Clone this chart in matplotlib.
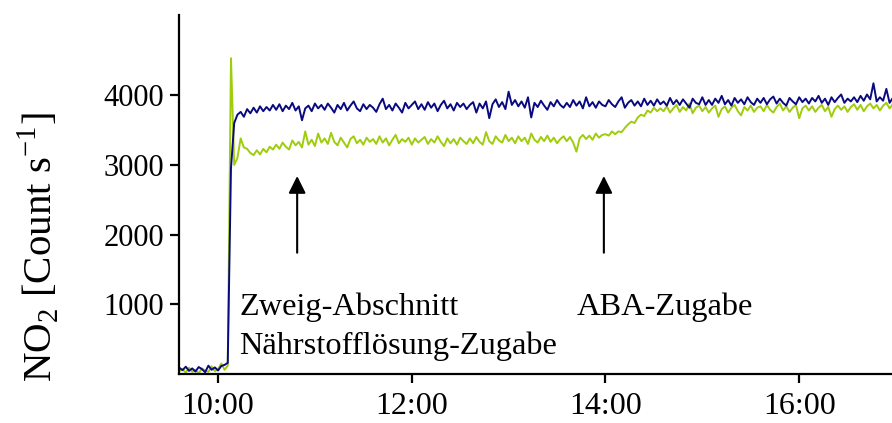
import numpy as np
import matplotlib
matplotlib.use('Agg')
import matplotlib.pyplot as plt

plt.rcParams['font.family'] = ['Liberation Serif', 'DejaVu Serif']
plt.rcParams['mathtext.fontset'] = 'custom'
plt.rcParams['mathtext.rm'] = 'Liberation Serif'

# NO2 signal, one reading every 2 minutes starting at 9:36
t_start = 9 * 60 + 36
t_step = 2

# blue trace
no2_blue = [
	90, 55, 105, 45, 80, 35, 100, 70, 25, 120, 60, 95, 50, 115, 130,
	160, 2950, 3600, 3720, 3760, 3690, 3800, 3740, 3820, 3750, 3840, 3770, 3830, 3780, 3860,
	3790, 3870, 3770, 3850, 3800, 3890, 3780, 3840, 3640, 3810, 3850, 3770, 3880, 3810, 3860,
	3790, 3880, 3820, 3750, 3860, 3800, 3890, 3780, 3850, 3910, 3810, 3770, 3870, 3800, 3860,
	3820, 3760, 3870, 3950, 3800, 3860, 3780, 3880, 3820, 3750, 3890, 3810, 3860, 3910, 3800,
	3870, 3790, 3900, 3820, 3880, 3770, 3860, 3920, 3810, 3870, 3780, 3890, 3830, 3880, 3800,
	3860, 3900, 3750, 3880, 3810, 3910, 3670, 3870, 3940, 3830, 3900, 3800, 4050, 3860, 3930,
	3840, 3910, 3820, 3970, 3680, 3890, 3830, 3920, 3850, 3790, 3900, 3840, 3930, 3860, 3820,
	3890, 3830, 3930, 3850, 3910, 3810, 3970, 3840, 3900, 3820, 3910, 3860, 3840, 3930, 3870,
	3830, 3910, 3970, 3820, 3890, 3930, 3850, 3910, 3840, 3950, 3860, 3920, 3850, 3940, 3870,
	3910, 3850, 3960, 3870, 3930, 3860, 3940, 3880, 3820, 3950, 3890, 3870, 3970, 3860, 3930,
	3860, 3950, 3890, 3990, 3870, 3930, 3850, 3960, 3890, 3940, 3870, 3970, 3900, 3860, 3950,
	3890, 3960, 3870, 3940, 3980, 3880, 3950, 3890, 3850, 3960, 3910, 3870, 3970, 3900, 3950,
	3880, 3960, 3910, 3990, 3890, 3950, 3860, 3970, 3900, 3960, 4010, 3890, 3950, 3910, 3970,
	3900, 3990, 3920, 4010, 3940, 4170, 3910, 3970, 3920, 4090, 3890, 3960,
]

# green trace
no2_green = [
	40, 70, 20, 90, 30, 60, 10, 80, 50, 30, 110, 40, 70, 150, 60,
	120, 4530, 3000, 3100, 3380, 3250, 3230, 3170, 3140, 3210, 3150, 3230, 3180, 3260, 3220,
	3290, 3230, 3320, 3260, 3220, 3350, 3280, 3330, 3250, 3480, 3290, 3360, 3270, 3450, 3320,
	3380, 3300, 3460, 3330, 3280, 3390, 3320, 3250, 3370, 3410, 3310, 3360, 3290, 3390, 3330,
	3370, 3300, 3410, 3320, 3380, 3280, 3360, 3430, 3310, 3370, 3330, 3390, 3290, 3380, 3320,
	3360, 3400, 3300, 3370, 3320, 3410, 3330, 3270, 3380, 3310, 3370, 3290, 3390, 3340, 3300,
	3380, 3310, 3400, 3330, 3290, 3470, 3340, 3300, 3410, 3350, 3320, 3430, 3340, 3390, 3310,
	3410, 3340, 3390, 3300, 3450, 3360, 3320, 3400, 3340, 3420, 3330, 3390, 3310, 3370, 3410,
	3340, 3400, 3320, 3190, 3380, 3430, 3370, 3420, 3360, 3450, 3390, 3430, 3440, 3420, 3480,
	3440, 3480, 3470, 3530, 3580, 3620, 3600, 3680, 3720, 3700, 3780, 3750, 3820, 3770, 3810,
	3770, 3840, 3750, 3810, 3860, 3760, 3830, 3780, 3880, 3740, 3820, 3850, 3770, 3830, 3750,
	3810, 3850, 3690, 3800, 3840, 3750, 3820, 3860, 3770, 3710, 3830, 3780, 3850, 3760, 3820,
	3840, 3770, 3860, 3790, 3750, 3830, 3880, 3780, 3840, 3760, 3820, 3860, 3670, 3810, 3850,
	3780, 3840, 3760, 3820, 3860, 3770, 3830, 3690, 3800, 3850, 3790, 3840, 3760, 3830, 3870,
	3790, 3860, 3770, 3840, 3880, 3810, 3860, 3780, 3850, 3890, 3810, 3870,
]

tick_minutes = [600, 720, 840, 960]
tick_labels = ['10:00', '12:00', '14:00', '16:00']
y_ticks = [1000, 2000, 3000, 4000]

# events marked with an arrow and a label below it
arrow_times = [649, 839]
event_text = ['Zweig-Abschnitt\nNährstofflösung-Zugabe', 'ABA-Zugabe']
event_text_x = [613, 822]


def minutes(series):
	return t_start + t_step * np.arange(len(series))


fig = plt.figure(figsize=(8.92, 4.23), dpi=100)
ax = fig.add_axes([179 / 892, 1 - 374 / 423, 1 - 179 / 892, (374 - 15) / 423])

ax.plot(minutes(no2_green), no2_green, color='#9fcc0c', lw=1.4)
ax.plot(minutes(no2_blue), no2_blue, color='#0a0a80', lw=1.4)

ax.set_xlim(575.8, 1017.5)
ax.set_ylim(0, 5150)

ax.set_xticks(tick_minutes)
ax.set_xticklabels(tick_labels)
ax.set_yticks(y_ticks)

for side in ('top', 'right'):
	ax.spines[side].set_visible(False)
for side in ('left', 'bottom'):
	ax.spines[side].set_linewidth(1.6)

ax.tick_params(axis='both', direction='out', length=6.5, width=1.6)
ax.tick_params(axis='y', labelsize=22, pad=4)
ax.tick_params(axis='x', labelsize=23, pad=6.5)
ax.set_ylabel('NO$_\\mathregular{2}$ [Count s$^\\mathregular{-1}$]', fontsize=29.5, va='center')
ax.yaxis.set_label_coords(-0.198, 0.355)

for t in arrow_times:
	ax.annotate('', xy=(t, 2880), xytext=(t, 1700),
		arrowprops=dict(arrowstyle='-|>', color='black', lw=1.5, mutation_scale=26))

for label, x in zip(event_text, event_text_x):
	ax.text(x, 1170, label, fontsize=23.3, va='top', ha='left', linespacing=1.42)

fig.savefig('out.png', dpi=100)
